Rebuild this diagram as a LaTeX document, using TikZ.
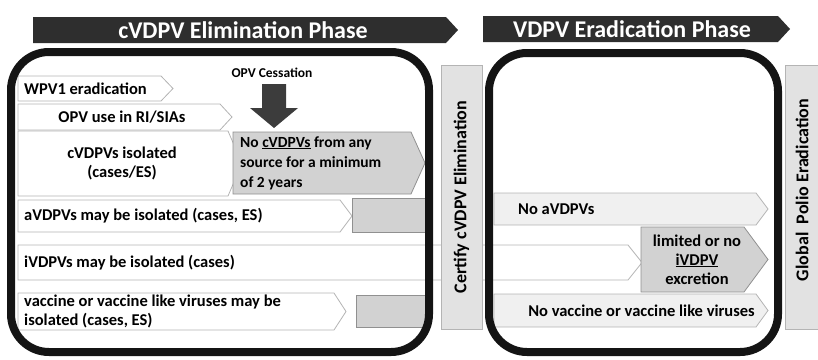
\documentclass[tikz,border=0pt]{standalone}
\usepackage{fontspec}
\setmainfont{Carlito}
\usetikzlibrary{calc,positioning}
\definecolor{banner}{HTML}{2E2E2E}
\definecolor{cessgrey}{HTML}{3C3C3C}
\definecolor{boxgrey}{HTML}{D2D2D2}
\definecolor{certgrey}{HTML}{E2E2E2}
\definecolor{rimgrey}{HTML}{B4B4B4}
% a row box with a pointed right end: style, x0, y0, x1, y1, tip depth
\newcommand\plate[6]{\path[#1] (#2,#3) -- (#4-#6,#3) -- (#4,{(#3+#5)/2}) -- (#4-#6,#5) -- (#2,#5) -- cycle;}

\begin{document}
\begin{tikzpicture}[x=1pt,y=-1pt,
  rowtxt/.style={font=\fontsize{16.5}{19}\selectfont\bfseries, inner sep=0pt},
  headtxt/.style={font=\fontsize{24}{26}\selectfont\bfseries, text=white, inner sep=0pt},
  sidetxt/.style={font=\fontsize{18}{20}\selectfont\bfseries, rotate=90, inner sep=0pt},
  whiterow/.style={fill=white, draw=rimgrey, line width=0.8pt},
  greyrow/.style={fill=boxgrey, draw=rimgrey!80!black, line width=0.8pt},
  lightrow/.style={fill=gray!12, draw=rimgrey, line width=0.8pt},
  frame/.style={draw=black!92, line width=8pt, rounded corners=38pt},
  certbox/.style={fill=certgrey, draw=rimgrey, line width=0.8pt}]
\useasboundingbox (0,0) rectangle (818,359);

% phase banners
\fill[banner] (33,17) -- (446,17) -- (458,30) -- (446,43) -- (33,43) -- cycle;
\node[headtxt] (elimhead) at (243,30) {cVDPV Elimination Phase};
\fill[banner] (483,16) -- (778,16) -- (790,29) -- (778,42) -- (483,42) -- cycle;
\node[headtxt] (eradhead) at (632,29) {VDPV Eradication Phase};

% rows, left phase
\plate{whiterow}{18}{76}{173}{101}{12}
\node[rowtxt, anchor=west] (wpv) at (24,88.5) {WPV1 eradication};
\plate{whiterow}{18}{104}{232}{130}{12}
\node[rowtxt] (opvuse) at (122,117) {OPV use in RI/SIAs};
\plate{whiterow}{18}{131}{242}{196}{14}
\node[rowtxt, align=center] (cvdpviso) at (122,163) {cVDPVs isolated\\(cases/ES)};
\plate{greyrow}{233}{132}{425}{194}{14}
\node[rowtxt, font=\fontsize{15.5}{20}\selectfont\bfseries, align=left, anchor=west] (nocvdpv) at (240,163)
  {No \underline{cVDPVs} from any\\source for a minimum\\of 2 years};
\plate{whiterow}{18}{200}{352}{232}{12}
\node[rowtxt, anchor=west] (avdpv) at (24,216) {aVDPVs may be isolated (cases, ES)};
\draw[greyrow] (352,198) rectangle (428,232);
\plate{whiterow}{18}{245}{642}{280}{14}
\node[rowtxt, anchor=west] (ivdpv) at (24,262.5) {iVDPVs may be isolated (cases)};
\plate{whiterow}{18}{293}{346}{330}{12}
\node[rowtxt, align=left, anchor=west] (vacc) at (24,311.5)
  {vaccine or vaccine like viruses may be\\isolated (cases, ES)};
\draw[greyrow] (356,295) rectangle (428,327);

% OPV cessation
\node[font=\fontsize{13.5}{15}\selectfont\bfseries, inner sep=0pt] (cessation) at (272,73) {OPV Cessation};
\fill[cessgrey] (262,84) -- (286,84) -- (286,108) -- (298,108) -- (274,128) -- (250,108) -- (262,108) -- cycle;

% rows, right phase
\plate{lightrow}{494}{193}{768}{225}{12}
\node[rowtxt, anchor=west] (noavdpv) at (518,209) {No aVDPVs};
\plate{greyrow}{641}{227}{768}{292}{24}
\node[rowtxt, align=center] (limited) at (697,259.5) {limited or no\\\underline{iVDPV}\\excretion};
\plate{lightrow}{494}{294}{768}{327}{12}
\node[rowtxt, anchor=east] (novacc) at (755,311) {No vaccine or vaccine like viruses};

% phase frames
\draw[frame] (11,52) rectangle (429,352);
\draw[frame] (489,53) rectangle (778,352);

% milestones
\draw[certbox] (441,65) rectangle (482,329);
\node[sidetxt] (certify) at (461.5,197) {Certify cVDPV Elimination};
\draw[certbox] (785,65) rectangle (830,329);
\node[sidetxt] (globalerad) at (802,190) {Global\ \ Polio Eradication};
\end{tikzpicture}
\end{document}
